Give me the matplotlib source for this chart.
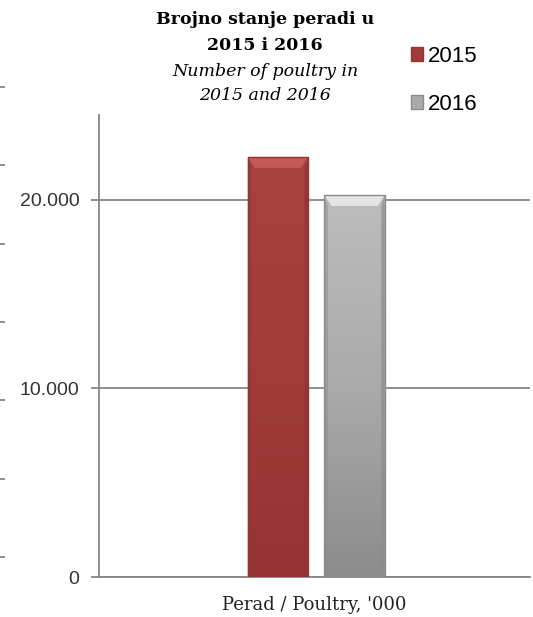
#!/usr/bin/env python3
### plot.py
### poultry count 2015 / 2016, bar chart with bevelled bars

import numpy as np
import matplotlib
matplotlib.use('AGG')
import matplotlib.pyplot as plt
from matplotlib.patches import Polygon, Patch
from matplotlib.ticker import FuncFormatter

# data ('000 head)
categories = ["Perad / Poultry, '000"]
years = ['2015', '2016']
values = [22280, 20260]
y_ticks = [0, 10000, 20000]

# top, middle, bottom, highlight
COLORS = {'2015': ('#a64240', '#a03c3a', '#943533', '#d06563'),
          '2016': ('#bdbdbd', '#aaaaaa', '#8c8c8c', '#f6f6f6')}
GRID = '#878787'
W, H, DPI = 533, 617, 100


def fmt_thousands(v, pos):
    return f'{int(v):,}'.replace(',', '.')


def bevel_bar(ax, rect, cols, px_x, px_y):
    """ fill a bar with a vertical gradient and a bevelled top """
    top_c, mid_c, bot_c, hi_c = cols
    x0, w, h = rect.get_x(), rect.get_width(), rect.get_height()
    rect.set_visible(False)
    grad = np.linspace(0, 1, 256)[:, None]
    cmap = matplotlib.colors.LinearSegmentedColormap.from_list(
        'g', [bot_c, mid_c, top_c])
    im = ax.imshow(grad, cmap=cmap, origin='lower', aspect='auto',
                   extent=(x0, x0 + w, 0, h), zorder=3)
    clip = matplotlib.patches.Rectangle((x0, 0), w, h, transform=ax.transData,
                                        fc='none', ec='none')
    ax.add_patch(clip)
    im.set_clip_path(clip)
    bx, by = 7 * px_x, 11 * px_y
    # top bevel
    ax.add_patch(Polygon([(x0, h), (x0 + w, h), (x0 + w - bx, h - by), (x0 + bx, h - by)],
                         closed=True, fc=hi_c, ec='none', alpha=0.7, zorder=4))
    # side shading
    ax.add_patch(Polygon([(x0, h), (x0 + bx * 0.5, h - by), (x0 + bx * 0.5, 0), (x0, 0)],
                         closed=True, fc=bot_c, ec='none', alpha=0.5, zorder=4))
    ax.add_patch(Polygon([(x0 + w, h), (x0 + w - bx * 0.5, h - by), (x0 + w - bx * 0.5, 0), (x0 + w, 0)],
                         closed=True, fc=bot_c, ec='none', alpha=0.7, zorder=4))
    ax.add_patch(matplotlib.patches.Rectangle((x0, 0), w, h, fc='none', ec=bot_c,
                                              lw=1.0, zorder=5))


fig = plt.figure(figsize=(W / DPI, H / DPI), dpi=DPI)
fig.patch.set_facecolor('white')

left, right, bottom, top = 99, 530, 577, 115
ax = fig.add_axes([left / W, (H - bottom) / H, (right - left) / W, (bottom - top) / H])
ymax = 24500
ax.set_xlim(-0.5, 0.5)
ax.set_ylim(0, ymax)
px_x = 1.0 / (right - left)
px_y = ymax / (bottom - top)

x = np.arange(len(categories))
width = 0.14
offsets = [-0.085, 0.093]
for yr, off, val in zip(years, offsets, values):
    bars = ax.bar(x + off, [val], width, color=COLORS[yr][1], zorder=3)
    for r in bars:
        bevel_bar(ax, r, COLORS[yr], px_x, px_y)

ax.set_yticks(y_ticks)
ax.yaxis.set_major_formatter(FuncFormatter(fmt_thousands))
ax.grid(axis='y', color=GRID, lw=1.3, zorder=1)
ax.set_xticks(x)
ax.set_xticklabels(categories, family='DejaVu Serif', fontsize=13, color='#222222')
ax.tick_params(axis='x', length=0, pad=14)
ax.tick_params(axis='y', length=6, width=1.3, color=GRID, pad=8,
               labelsize=14, labelcolor='#333333')
for lab in ax.get_yticklabels():
    lab.set_family('Liberation Sans')
for s in ('top', 'right'):
    ax.spines[s].set_visible(False)
for s in ('left', 'bottom'):
    ax.spines[s].set_color(GRID)
    ax.spines[s].set_linewidth(1.3)

# fragment of a neighbouring axis at the left edge
ax2 = fig.add_axes([5 / W, (H - 557) / H, 0.0001, (557 - 87) / H])
ax2.set_ylim(0, 6)
ax2.set_yticks(range(7))
ax2.set_yticklabels([])
ax2.set_xticks([])
ax2.tick_params(axis='y', length=5, width=1.3, color=GRID)
for s in ax2.spines.values():
    s.set_visible(False)

# title
cx = 265 / W
fig.text(cx, 1 - 20 / H, 'Brojno stanje peradi u', ha='center', va='center',
         family='DejaVu Serif', weight='bold', fontsize=12.5)
fig.text(cx, 1 - 45 / H, '2015 i 2016', ha='center', va='center',
         family='DejaVu Serif', weight='bold', fontsize=12.5)
fig.text(cx, 1 - 72 / H, 'Number of poultry in', ha='center', va='center',
         family='DejaVu Serif', style='italic', fontsize=12.5)
fig.text(cx, 1 - 95 / H, '2015 and 2016', ha='center', va='center',
         family='DejaVu Serif', style='italic', fontsize=12.5)

handles = [Patch(fc=COLORS[yr][1], ec=COLORS[yr][2]) for yr in years]
leg = fig.legend(handles, years, loc='upper left', bbox_to_anchor=(411 / W, 1 - 46 / H),
                 frameon=False, fontsize=16, labelspacing=1.2, handlelength=0.55,
                 handleheight=0.55, handletextpad=0.2, borderaxespad=0, borderpad=0)
for t in leg.get_texts():
    t.set_family('Liberation Sans')

fig.savefig('out.png', dpi=DPI, facecolor='white')
